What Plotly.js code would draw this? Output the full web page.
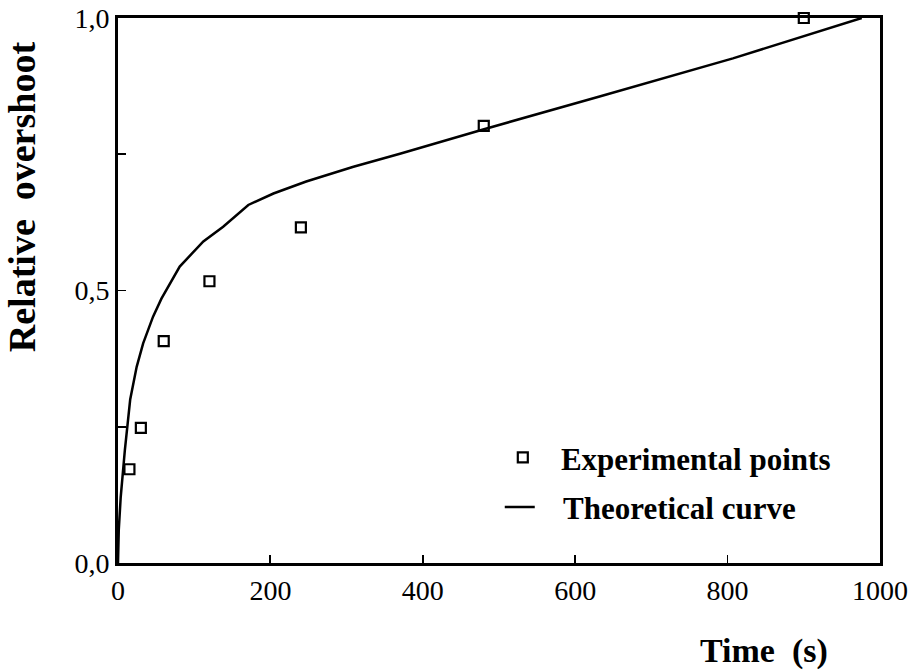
<!DOCTYPE html>
<html>
<head>
<meta charset="utf-8">
<script src="https://cdn.plot.ly/plotly-3.0.1.min.js"></script>
<style>html,body{margin:0;padding:0;background:#fff;}#chart{width:920px;height:672px;}</style>
</head>
<body>
<div id="chart"></div>
<script>
// Experimental points
const expTime = [15, 30, 60, 120, 240, 480, 900];
const expOvershoot = [0.172, 0.248, 0.407, 0.517, 0.616, 0.802, 1.0];

// Theoretical curve
const theoTime = [0, 1, 3.5, 9, 16, 24.5, 33, 46, 57, 81, 112, 138, 171, 204, 247, 309, 370, 478, 632, 807, 976];
const theoOvershoot = [0, 0.06, 0.12, 0.207, 0.30, 0.36, 0.403, 0.452, 0.485, 0.544, 0.59, 0.617, 0.657, 0.678, 0.70, 0.727, 0.751, 0.795, 0.856, 0.926, 1.0];

// Axis ticks
const xTickVals = [0, 200, 400, 600, 800, 1000];
const xTickText = ['0', '200', '400', '600', '800', '1000'];
const yTickVals = [0, 0.25, 0.5, 0.75, 1.0];
const yTickText = ['0,0', '', '0,5', '', '1,0'];

const serif = 'Liberation Serif, Times New Roman, serif';

const traces = [
  {
    x: expTime, y: expOvershoot, type: 'scatter', mode: 'markers',
    name: '\u00a0\u00a0\u200a<b>Experimental points</b>', legend: 'legend',
    marker: {symbol: 'square-open', size: 10, color: '#000', line: {width: 2.2, color: '#000'}},
    cliponaxis: false
  },
  {
    x: theoTime, y: theoOvershoot, type: 'scatter', mode: 'lines',
    name: '\u00a0\u00a0\u00a0<b>Theoretical curve</b>', legend: 'legend2',
    line: {color: '#000', width: 2.5}
  }
];

const axisCommon = {
  showgrid: false, zeroline: false, showline: true, mirror: true,
  linecolor: '#000', linewidth: 3, ticks: 'inside', ticklen: 8,
  tickwidth: 1.8, tickcolor: '#000',
  tickfont: {family: serif, size: 28, color: '#000'}
};

const legendCommon = {
  xanchor: 'left', yanchor: 'middle',
  bgcolor: 'rgba(0,0,0,0)', font: {family: serif, size: 31, color: '#000'}
};

const layout = {
  width: 920, height: 672,
  paper_bgcolor: '#fff', plot_bgcolor: '#fff',
  margin: {l: 118, r: 40, t: 18, b: 109},
  showlegend: true,
  xaxis: Object.assign({}, axisCommon, {
    range: [0, 1000], tickmode: 'array', tickvals: xTickVals, ticktext: xTickText
  }),
  yaxis: Object.assign({}, axisCommon, {
    range: [0, 1.0], tickmode: 'array', tickvals: yTickVals, ticktext: yTickText
  }),
  legend: Object.assign({}, legendCommon, {x: 0.505, y: 0.193}),
  legend2: Object.assign({}, legendCommon, {x: 0.501, y: 0.102}),
  annotations: [
    {
      text: '<b>Time\u00a0\u00a0(s)</b>', xref: 'paper', yref: 'paper', x: 0.934, y: -0.162,
      xanchor: 'right', yanchor: 'middle', showarrow: false,
      font: {family: serif, size: 34, color: '#000'}
    },
    {
      text: '<b>Relative\u00a0\u00a0overshoot</b>', xref: 'paper', yref: 'paper', x: -0.126, y: 0.673,
      xanchor: 'center', yanchor: 'middle', showarrow: false, textangle: -90,
      font: {family: serif, size: 38, color: '#000'}
    }
  ]
};

Plotly.newPlot('chart', traces, layout, {displayModeBar: false, staticPlot: true});
</script>
</body>
</html>
